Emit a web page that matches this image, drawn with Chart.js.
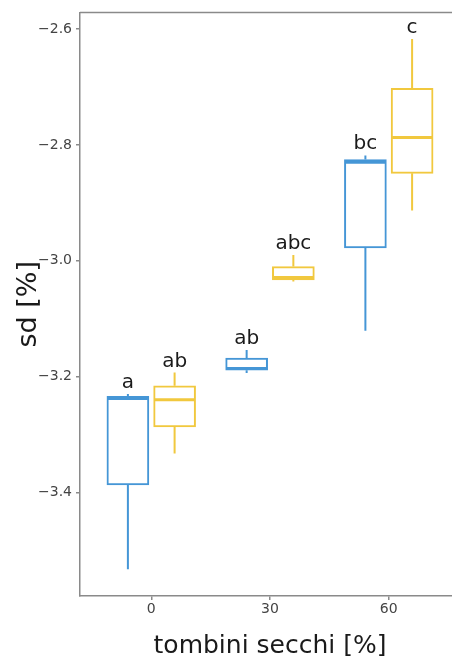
<!DOCTYPE html>
<html>
<head>
<meta charset="utf-8">
<script src="https://cdn.jsdelivr.net/npm/chart.js@4.4.1/dist/chart.umd.min.js"></script>
<style>
  html, body { margin: 0; padding: 0; background: #fff; overflow: hidden; }
  #wrap { width: 460px; height: 665px; }
</style>
</head>
<body>
<div id="wrap"><canvas id="chart" width="460" height="665"></canvas></div>
<script>
const categories = ['0', '30', '60']
const xValues = [0, 30, 60]
const yTicks = [-3.4, -3.2, -3.0, -2.8, -2.6]
const yTickLabels = ['\u22123.4', '\u22123.2', '\u22123.0', '\u22122.8', '\u22122.6']

// blue boxes
const blueMin = [-3.533, -3.194, -3.121]
const blueQ1 = [-3.387, -3.189, -2.978]
const blueMed = [-3.238, -3.186, -2.830]
const blueQ3 = [-3.234, -3.168, -2.825]
const blueMax = [-3.230, -3.154, -2.818]
const blueLetters = ['a', 'ab', 'bc']

// yellow boxes
const yellowMin = [-3.333, -3.036, -2.913]
const yellowQ1 = [-3.287, -3.033, -2.849]
const yellowMed = [-3.240, -3.029, -2.787]
const yellowQ3 = [-3.216, -3.010, -2.702]
const yellowMax = [-3.193, -2.990, -2.617]
const yellowLetters = ['ab', 'abc', 'c']

const BLUE = '#4596d6'
const YELLOW = '#f1c83e'
const DODGE = 5.9
const AXIS = '#8a8a8a'
const FONT = 'DejaVu Sans'

const groups = [
  { color: BLUE, dodge: -DODGE, min: blueMin, q1: blueQ1, med: blueMed, q3: blueQ3, max: blueMax, letters: blueLetters },
  { color: YELLOW, dodge: DODGE, min: yellowMin, q1: yellowQ1, med: yellowMed, q3: yellowQ3, max: yellowMax, letters: yellowLetters }
]

const boxExtras = {
  id: 'boxExtras',
  beforeDatasetsDraw(chart) {
    const ctx = chart.ctx, y = chart.scales.y
    groups.forEach((g, d) => {
      chart.getDatasetMeta(d).data.forEach((el, i) => {
        ctx.save()
        ctx.strokeStyle = g.color
        ctx.lineWidth = 2
        ctx.beginPath()
        ctx.moveTo(el.x, y.getPixelForValue(g.q3[i]))
        ctx.lineTo(el.x, y.getPixelForValue(g.max[i]))
        ctx.moveTo(el.x, y.getPixelForValue(g.q1[i]))
        ctx.lineTo(el.x, y.getPixelForValue(g.min[i]))
        ctx.stroke()
        ctx.restore()
      })
    })
  },
  afterDatasetsDraw(chart) {
    const ctx = chart.ctx, y = chart.scales.y, a = chart.chartArea
    groups.forEach((g, d) => {
      chart.getDatasetMeta(d).data.forEach((el, i) => {
        const half = el.width / 2
        const ym = y.getPixelForValue(g.med[i])
        ctx.save()
        ctx.strokeStyle = g.color
        ctx.lineWidth = 3
        ctx.beginPath()
        ctx.moveTo(el.x - half + 1, ym)
        ctx.lineTo(el.x + half - 1, ym)
        ctx.stroke()
        ctx.fillStyle = '#1a1a1a'
        ctx.font = '20px "' + FONT + '"'
        ctx.textAlign = 'center'
        ctx.textBaseline = 'alphabetic'
        ctx.fillText(g.letters[i], el.x, y.getPixelForValue(g.max[i]) - 6)
        ctx.restore()
      })
    })
    // top panel border
    ctx.save()
    ctx.strokeStyle = AXIS
    ctx.lineWidth = 1.5
    ctx.beginPath()
    ctx.moveTo(a.left, a.top)
    ctx.lineTo(a.right, a.top)
    ctx.stroke()
    ctx.restore()
  }
}

new Chart(document.getElementById('chart').getContext('2d'), {
  type: 'bar',
  data: {
    datasets: groups.map((g) => ({
      data: xValues.map((x, i) => ({ x: x + g.dodge, y: [g.q1[i], g.q3[i]] })),
      backgroundColor: '#ffffff',
      borderColor: g.color,
      borderWidth: 2,
      borderSkipped: false,
      barThickness: 42,
      grouped: false
    }))
  },
  options: {
    responsive: false,
    animation: false,
    layout: { padding: { top: 11, left: 0, right: 0, bottom: 0 } },
    plugins: { legend: { display: false }, tooltip: { enabled: false } },
    scales: {
      x: {
        type: 'linear',
        min: -18,
        max: 78,
        offset: false,
        afterBuildTicks: (s) => { s.ticks = xValues.map((v) => ({ value: v })) },
        afterFit: (s) => { s.height = 69 },
        ticks: {
          callback: (v, i) => categories[i],
          color: '#444444',
          font: { family: FONT, size: 14 },
          padding: 1,
          maxRotation: 0,
          autoSkip: false
        },
        grid: { offset: false, drawOnChartArea: false, tickLength: 4, color: AXIS, lineWidth: 1.5 },
        border: { color: AXIS, width: 1.5 },
        title: {
          display: true,
          text: 'tombini secchi [%]',
          color: '#1a1a1a',
          font: { family: FONT, size: 25 },
          padding: { top: 0, bottom: 4 }
        }
      },
      y: {
        type: 'linear',
        min: -3.579,
        max: -2.571,
        afterBuildTicks: (s) => { s.ticks = yTicks.map((v) => ({ value: v })) },
        afterFit: (s) => { s.width = 80 },
        ticks: {
          callback: (v, i) => yTickLabels[i],
          color: '#444444',
          font: { family: FONT, size: 14 },
          padding: 4
        },
        grid: { offset: false, drawOnChartArea: false, tickLength: 4, color: AXIS, lineWidth: 1.5 },
        border: { color: AXIS, width: 1.5 },
        title: {
          display: true,
          text: 'sd [%]',
          color: '#1a1a1a',
          font: { family: FONT, size: 27 },
          padding: { top: 13, bottom: 0 }
        }
      }
    }
  },
  plugins: [boxExtras]
})
</script>
</body>
</html>
